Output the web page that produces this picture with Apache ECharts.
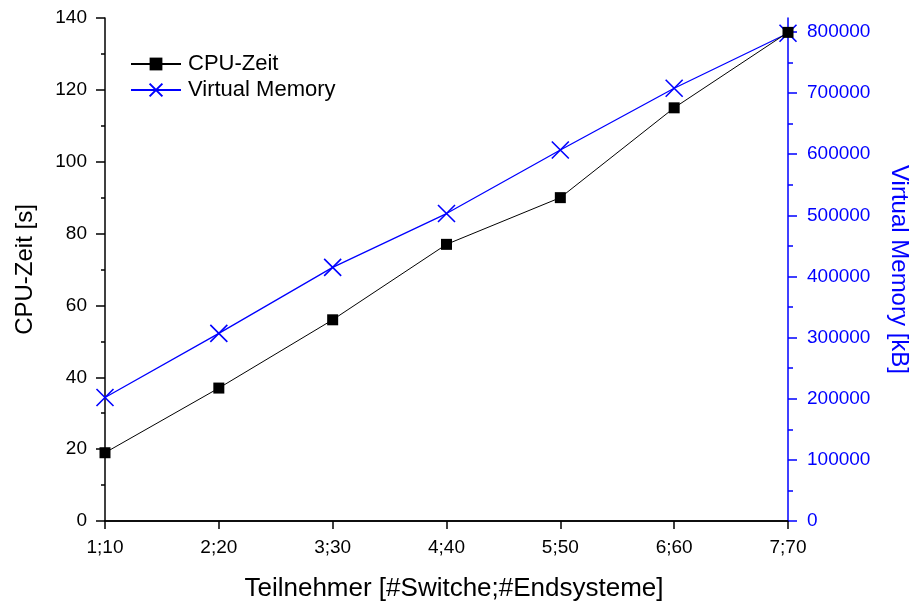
<!DOCTYPE html>
<html>
<head>
<meta charset="utf-8">
<script src="https://cdn.jsdelivr.net/npm/echarts@6/dist/echarts.min.js"></script>
<style>
html,body{margin:0;padding:0;background:#fff;}
#c{width:914px;height:604px;}
</style>
</head>
<body>
<div id="c"></div>
<script>
const categories = ['1;10', '2;20', '3;30', '4;40', '5;50', '6;60', '7;70'];
const cpuTime = [19, 37, 56, 77, 90, 115, 136];
const virtualMemory = [202000, 307000, 415000, 503000, 607000, 708000, 798000];
const cpuTicks = [0, 140, 20];
const vmTicks = [0, 822900, 100000];
const vmTickValues = [0, 100000, 200000, 300000, 400000, 500000, 600000, 700000, 800000];

const FONT = 'Liberation Sans, Arial, sans-serif';
const chart = echarts.init(document.getElementById('c'), null, {renderer: 'canvas'});
chart.setOption({
  animation: false,
  backgroundColor: '#fff',
  textStyle: {fontFamily: FONT},
  grid: {left: 105, right: 126, top: 18, bottom: 83, containLabel: false, outerBoundsMode: 'none'},
  legend: {
    orient: 'vertical', left: 130, top: 53, padding: 0, itemWidth: 50, itemHeight: 16, itemGap: 4,
    textStyle: {fontFamily: FONT, fontSize: 22, lineHeight: 22, color: '#000', padding: [0,0,0,2]},
    data: ['CPU-Zeit', 'Virtual Memory']
  },
  xAxis: [{
    type: 'category', data: categories, boundaryGap: false, position: 'bottom',
    name: 'Teilnehmer [#Switche;#Endsysteme]', nameLocation: 'middle', nameGap: 55,
    nameTextStyle: {fontFamily: FONT, fontSize: 26, color: '#000', padding: [0,0,0,15]},
    axisLine: {lineStyle: {color: '#000', width: 1.5}},
    axisTick: {show: true, inside: false, length: 8, lineStyle: {color: '#000', width: 1.5}, alignWithLabel: true},
    axisLabel: {fontFamily: FONT, fontSize: 19, color: '#000', margin: 17},
    splitLine: {show: false}
  }, {
    type: 'category', data: categories, boundaryGap: false, position: 'top',
    axisLine: {lineStyle: {color: '#000', width: 1.5}},
    axisTick: {show: true, inside: true, length: 7, lineStyle: {color: '#000', width: 1.5}},
    axisLabel: {show: false},
    splitLine: {show: false}
  }],
  yAxis: [{
    type: 'value', min: cpuTicks[0], max: cpuTicks[1], interval: cpuTicks[2], position: 'left',
    name: 'CPU-Zeit [s]', nameLocation: 'middle', nameGap: 68, nameRotate: 90,
    nameTextStyle: {fontFamily: FONT, fontSize: 24, color: '#000'},
    axisLine: {show: true, lineStyle: {color: '#000', width: 1.5}},
    axisTick: {show: true, inside: false, length: 9, lineStyle: {color: '#000', width: 1.5}},
    minorTick: {show: true, splitNumber: 2, length: 4, lineStyle: {color: '#000', width: 1.5}},
    axisLabel: {fontFamily: FONT, fontSize: 19, color: '#000', margin: 18},
    splitLine: {show: false}
  }, {
    type: 'value', min: vmTicks[0], max: vmTicks[1], interval: vmTicks[2], position: 'right',
    name: 'Virtual Memory [kB]', nameLocation: 'middle', nameGap: 99, nameRotate: -90,
    nameTextStyle: {fontFamily: FONT, fontSize: 24, color: '#0000ff'},
    axisLine: {show: true, lineStyle: {color: '#0000ff', width: 1.5}},
    axisTick: {show: true, inside: false, length: 9, customValues: vmTickValues, lineStyle: {color: '#0000ff', width: 1.5}},
    minorTick: {show: true, splitNumber: 2, length: 5, lineStyle: {color: '#0000ff', width: 1.5}},
    axisLabel: {fontFamily: FONT, fontSize: 19, color: '#0000ff', margin: 19, customValues: vmTickValues,
      formatter: v => String(v)},
    splitLine: {show: false}
  }],
  series: [{
    name: 'CPU-Zeit', type: 'line', xAxisIndex: 0, yAxisIndex: 0, data: cpuTime,
    symbol: 'rect', symbolSize: 11, showAllSymbol: true,
    lineStyle: {color: '#000', width: 1},
    itemStyle: {color: '#000'}, z: 3
  }, {
    name: 'Virtual Memory', type: 'line', xAxisIndex: 0, yAxisIndex: 1, data: virtualMemory,
    symbol: 'path://M0,0L10,10M10,0L0,10', symbolSize: 17, showAllSymbol: true,
    lineStyle: {color: '#0000ff', width: 1.3},
    itemStyle: {color: 'none', borderColor: '#0000ff', borderWidth: 1.6}, z: 2
  }]
});
</script>
</body>
</html>
